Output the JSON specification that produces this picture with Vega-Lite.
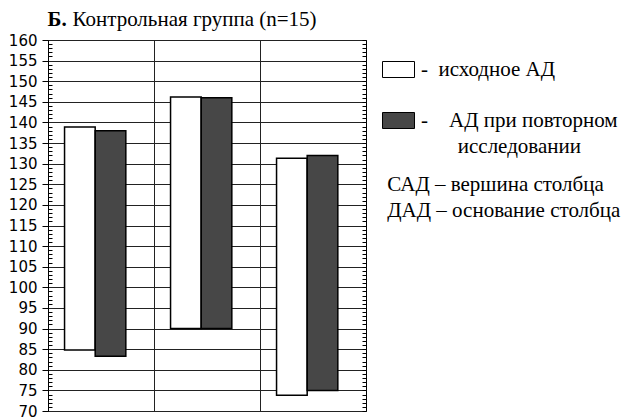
{
  "$schema": "https://vega.github.io/schema/vega-lite/v6.json",
  "autosize": "none",
  "width": 318,
  "height": 371,
  "padding": {"left": 48, "top": 40, "right": 256, "bottom": 7},
  "background": "white",
  "config": {"view": {"stroke": "black", "strokeWidth": 1}},
  "data": {
    "values": [
      {"group": "1", "series": "исходное АД", "low": 84.8, "high": 138.9},
      {"group": "1", "series": "АД при повторном исследовании", "low": 83.3, "high": 138.0},
      {"group": "2", "series": "исходное АД", "low": 90.0, "high": 146.2},
      {"group": "2", "series": "АД при повторном исследовании", "low": 90.0, "high": 146.0},
      {"group": "3", "series": "исходное АД", "low": 73.8, "high": 131.3},
      {"group": "3", "series": "АД при повторном исследовании", "low": 75.0, "high": 132.0}
    ]
  },
  "encoding": {
    "x": {
      "field": "group", "type": "nominal", "sort": null,
      "scale": {"paddingInner": 0, "paddingOuter": 0},
      "axis": {
        "orient": "top", "labels": false, "ticks": false, "domain": false,
        "grid": true, "bandPosition": 0, "gridColor": "#222", "gridWidth": 1,
        "title": "Контрольная группа (n=15)",
        "titleX": 24, "titleY": -15, "titleAlign": "left", "titleAnchor": "start", "titleBaseline": "alphabetic", "titleAngle": 0,
        "titleFont": "Liberation Serif", "titleFontSize": 21, "titleFontWeight": "normal", "titleColor": "black"
      }
    },
    "xOffset": {
      "field": "series", "type": "nominal",
      "scale": {"domain": ["исходное АД", "АД при повторном исследовании"], "paddingInner": 0, "paddingOuter": 0.73, "align": 0.37}
    },
    "y": {
      "field": "low", "type": "quantitative",
      "scale": {"domain": [70, 160], "nice": false, "zero": false},
      "axis": {
        "orient": "left",
        "values": [70,71,72,73,74,75,76,77,78,79,80,81,82,83,84,85,86,87,88,89,90,91,92,93,94,95,96,97,98,99,100,101,102,103,104,105,106,107,108,109,110,111,112,113,114,115,116,117,118,119,120,121,122,123,124,125,126,127,128,129,130,131,132,133,134,135,136,137,138,139,140,141,142,143,144,145,146,147,148,149,150,151,152,153,154,155,156,157,158,159,160],
        "grid": true, "gridColor": "#222", "gridWidth": 1,
        "gridOpacity": {"condition": {"test": "datum.value % 5 === 0", "value": 1}, "value": 0},
        "tickSize": {"condition": {"test": "datum.value % 5 === 0", "value": 6}, "value": -4},
        "tickColor": "black", "tickWidth": 1,
        "labelExpr": "datum.value % 5 === 0 ? datum.label : ''",
        "labelFont": "DejaVu Sans", "labelFontSize": 15, "labelColor": "black", "labelPadding": 5,
        "labelOverlap": false, "labelFlush": false, "labelBound": false,
        "domain": true, "domainColor": "black", "domainWidth": 1,
        "title": "Б.",
        "titleX": -1, "titleY": -15, "titleAlign": "left", "titleAnchor": "start", "titleBaseline": "alphabetic", "titleAngle": 0,
        "titleFont": "Liberation Serif", "titleFontSize": 21, "titleFontWeight": "bold", "titleColor": "black"
      }
    },
    "y2": {"field": "high"}
  },
  "layer": [
    {
      "mark": {"type": "bar", "strokeWidth": 0},
      "encoding": {
        "fill": {
          "field": "series", "type": "nominal",
          "scale": {"domain": ["исходное АД", "АД при повторном исследовании"], "range": ["white", "#474747"]},
          "legend": {
            "orient": "none", "legendX": 334, "legendY": 13, "direction": "vertical",
            "title": ["\u200b\u00a0САД – вершина столбца", "\u200b\u00a0ДАД – основание столбца"],
            "titleOrient": "bottom", "titleFont": "Liberation Serif", "titleFontSize": 21, "titleFontWeight": "normal",
            "titleColor": "black", "titleLineHeight": 26, "titlePadding": 17, "titleAnchor": "start", "titleAlign": "left", "titleLimit": 400,
            "symbolType": "M-1,-0.5H1V0.5H-1Z", "symbolSize": 1024, "symbolStrokeColor": "black", "symbolStrokeWidth": 1, "symbolOpacity": 1,
            "labelFont": "Liberation Serif", "labelFontSize": 21, "labelColor": "black", "labelOffset": 6, "labelLimit": 400,
            "labelBaseline": "middle", "labelAlign": "left",
            "labelExpr": "datum.value == 'исходное АД' ? '-\u00a0\u00a0исходное АД' : ['-\u00a0\u00a0\u00a0\u00a0АД при повторном', '\u200b\u00a0\u00a0\u00a0\u00a0\u00a0\u00a0\u00a0исследовании']",
            "rowPadding": 24,
            "encode": {
              "labels": {"update": {"lineHeight": {"value": 26}}},
              "symbols": {"update": {"stroke": {"value": "black"}, "strokeWidth": {"value": 1}}}
            }
          }
        }
      }
    },
    {
      "mark": {"type": "bar", "fillOpacity": 0, "stroke": "black", "strokeWidth": 1.5},
      "encoding": {
        "y": {
          "field": "low", "type": "quantitative",
          "axis": {
            "orient": "right",
            "values": [70,71,72,73,74,75,76,77,78,79,80,81,82,83,84,85,86,87,88,89,90,91,92,93,94,95,96,97,98,99,100,101,102,103,104,105,106,107,108,109,110,111,112,113,114,115,116,117,118,119,120,121,122,123,124,125,126,127,128,129,130,131,132,133,134,135,136,137,138,139,140,141,142,143,144,145,146,147,148,149,150,151,152,153,154,155,156,157,158,159,160],
            "labels": false, "domain": false, "grid": false, "title": null,
            "tickSize": -4, "tickColor": "black", "tickWidth": 1
          }
        }
      }
    }
  ],
  "resolve": {"axis": {"y": "independent"}}
}
